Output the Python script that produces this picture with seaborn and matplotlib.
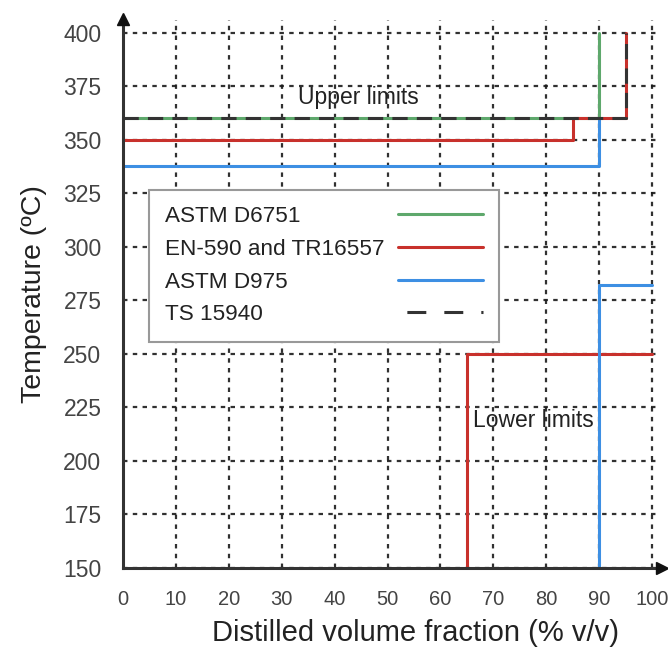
import matplotlib
matplotlib.use("Agg")
import matplotlib.pyplot as plt
from matplotlib.lines import Line2D
import numpy as np
import pandas as pd
import seaborn as sns

# Distillation specification limits (step curves)
standards = ["ASTM D6751", "EN-590 and TR16557", "ASTM D975", "TS 15940"]
colors = ["#5ea86c", "#c8312c", "#3d8fe3", "#333333"]

d6751_upper_x = [0, 90, 90]
d6751_upper_y = [360, 360, 400]

en590_upper_x = [0, 85, 85, 95, 95]
en590_upper_y = [350, 350, 360, 360, 400]
en590_lower_x = [65, 65, 100]
en590_lower_y = [150, 250, 250]

d975_upper_x = [0, 90, 90]
d975_upper_y = [338, 338, 360]
d975_lower_x = [90, 90, 100]
d975_lower_y = [150, 282, 282]

ts15940_upper_x = [0, 95, 95]
ts15940_upper_y = [360, 360, 400]

x_ticks = list(range(0, 101, 10))
y_ticks = list(range(150, 401, 25))

segments = [
    ("ASTM D6751", "d6751-up", d6751_upper_x, d6751_upper_y),
    ("EN-590 and TR16557", "en590-up", en590_upper_x, en590_upper_y),
    ("EN-590 and TR16557", "en590-low", en590_lower_x, en590_lower_y),
    ("ASTM D975", "d975-up", d975_upper_x, d975_upper_y),
    ("ASTM D975", "d975-low", d975_lower_x, d975_lower_y),
    ("TS 15940", "ts-up", ts15940_upper_x, ts15940_upper_y),
]
rows = []
for std, seg, xs, ys in segments:
    for i, (xv, yv) in enumerate(zip(xs, ys)):
        rows.append({"standard": std, "segment": seg, "order": i, "x": xv, "y": yv})
df = pd.DataFrame(rows)

sns.set_style("white")
plt.rcParams["font.family"] = ["Liberation Sans", "DejaVu Sans"]

fig = plt.figure(figsize=(6.68, 6.49), dpi=100)
ax = fig.add_axes([123 / 668, 81 / 649, 537 / 668, 548 / 649])

palette = dict(zip(standards, colors))
dashes = {"ASTM D6751": "", "EN-590 and TR16557": "", "ASTM D975": "", "TS 15940": (5, 3)}
lw = 2.2

sns.lineplot(data=df, x="x", y="y", hue="standard", style="standard",
             units="segment", estimator=None, sort=False,
             hue_order=standards, style_order=standards,
             palette=palette, dashes=dashes, linewidth=lw,
             legend=False, ax=ax, zorder=3)

ax.set_xlim(0, 101.5)
ax.set_ylim(150, 406)
ax.set_xticks(x_ticks)
ax.set_yticks(y_ticks)

# dotted grid
ax.grid(True, color="#1a1a1a", linestyle=(0, (2, 2.4)), linewidth=1.6, alpha=0.9)
ax.set_axisbelow(True)

for side in ["top", "right"]:
    ax.spines[side].set_visible(False)
for side in ["left", "bottom"]:
    ax.spines[side].set_color("#333333")
    ax.spines[side].set_linewidth(2.2)
    ax.spines[side].set_zorder(4)

ax.tick_params(axis="x", direction="inout", length=10, width=1.4, color="#333333",
               labelsize=14.5, labelcolor="#444444", pad=11)
ax.tick_params(axis="y", direction="inout", length=9, width=1.4, color="#444444",
               labelsize=16.5, labelcolor="#444444", pad=11)

# axis arrowheads
ax.plot([0], [406.5], marker="^", markersize=9, color="#111111", clip_on=False, zorder=5)
ax.plot([101.9], [150], marker=">", markersize=9, color="#111111", clip_on=False, zorder=5)

ax.set_xlabel("Distilled volume fraction (% v/v)", fontsize=21, color="#222222",
              labelpad=7, x=0.544)
ax.set_ylabel("Temperature (ºC)", fontsize=20.5, color="#222222", labelpad=12)

ax.text(44.4, 370, "Upper limits", fontsize=16.5, ha="center", va="center", color="#222222")
ax.text(77.5, 218.7, "Lower limits", fontsize=16.5, ha="center", va="center", color="#222222")

handles = [Line2D([], [], color=c, linewidth=lw) for c in colors[:3]]
handles.append(Line2D([], [], color=colors[3], linewidth=lw,
                      linestyle=(9.2, (6.2, 5.9))))
leg = ax.legend(handles, standards, loc="upper left",
                bbox_to_anchor=(149 / 668, 1 - 190 / 649), bbox_transform=fig.transFigure,
                borderaxespad=0, markerfirst=False, fontsize=16.2, handlelength=3.8,
                handletextpad=1.0, labelspacing=0.52, borderpad=0.72, frameon=True,
                fancybox=False, framealpha=1, edgecolor="#999999")
leg.get_frame().set_linewidth(1.5)
leg.set_zorder(6)
for t in leg.get_texts():
    t.set_color("#222222")

# spread each legend row: label on the left, line sample on the right
for col in leg._legend_handle_box.get_children():
    for row in col.get_children():
        row.mode = "expand"
        row.width = 318

fig.savefig("out.png", dpi=100)
